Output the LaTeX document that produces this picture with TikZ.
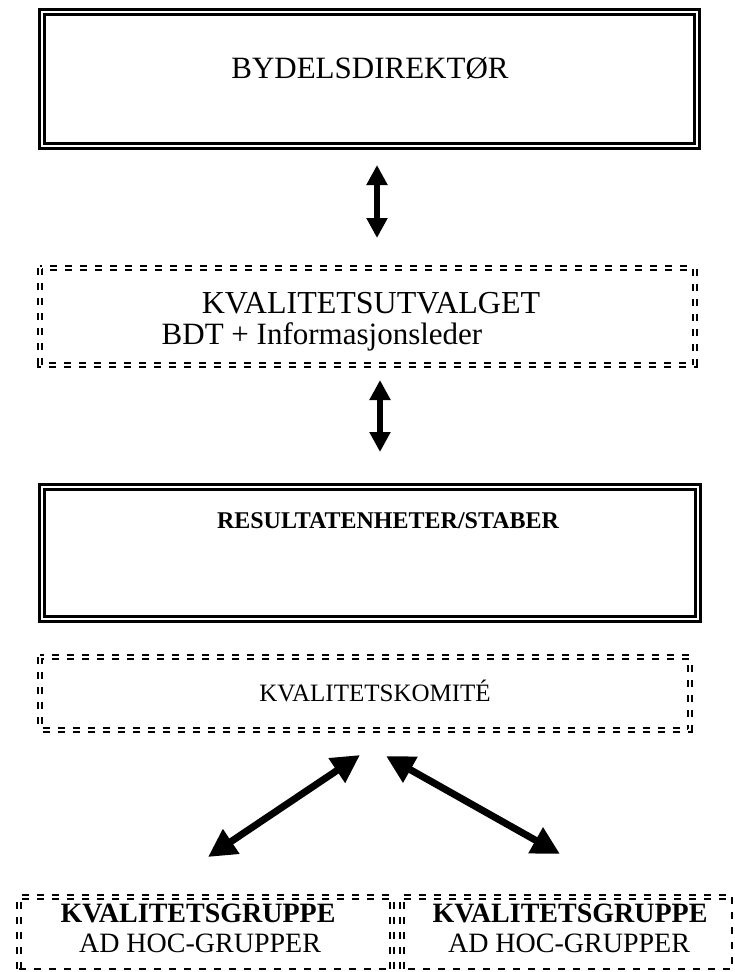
\documentclass[tikz,border=0pt]{standalone}
\usepackage{fontspec}
\setmainfont{Liberation Serif}
\usetikzlibrary{arrows.meta}
\begin{document}
\begin{tikzpicture}[x=1pt,y=-1pt,
  txt/.style={anchor=base,inner sep=0pt,font=\fontsize{30}{30}\selectfont},
  area/.style={inner sep=0pt,draw=none},
  framebox/.style={draw,line width=2.4pt,double,double distance=2.6pt,inner sep=0pt},
  ddash/.style={line width=2.1pt,double,double distance=2pt,dash pattern=on 7pt off 8pt},
  sdash/.style={line width=2.2pt,dash pattern=on 7pt off 8pt},
  varrow/.style={line width=5.5pt,{Triangle[width=20pt,length=20pt]}-{Triangle[width=20pt,length=20pt]}},
  darrow/.style={line width=7pt,{Triangle[width=28pt,length=28pt]}-{Triangle[width=28pt,length=28pt]}}]
\useasboundingbox (0,0) rectangle (735,972);

% box 1
\node[framebox,minimum width=655pt,minimum height=134pt] (b1) at (369.5,79) {};
\node[txt,font=\fontsize{31}{31}\selectfont] (t1) at (370,78) {BYDELSDIREKTØR};

% box 2
\node[area,minimum width=654pt,minimum height=96pt] (b2) at (367.5,316.5) {};
\draw[ddash] (b2.north west) rectangle (b2.south east);
\node[txt,font=\fontsize{32}{32}\selectfont] (t2a) at (371,313) {KVALITETSUTVALGET};
\node[txt,font=\fontsize{31}{31}\selectfont] (t2b) at (322,344) {BDT + Informasjonsleder};

% box 3
\node[framebox,minimum width=656pt,minimum height=132pt] (b3) at (370,553) {};
\node[txt,font=\fontsize{24}{24}\selectfont\bfseries] (t3) at (388,528) {RESULTATENHETER/STABER};

% box 4
\node[area,minimum width=649pt,minimum height=72pt] (b4) at (365,693.5) {};
\draw[ddash] (b4.north west) rectangle (b4.south east);
\node[txt,font=\fontsize{25}{25}\selectfont] (t4) at (375,701) {KVALITETSKOMITÉ};

% box 5
\node[area,minimum width=372pt,minimum height=72pt] (b5) at (205.5,933) {};
\draw[ddash] (b5.south west) -- (b5.north west) -- (b5.north east) -- (b5.south east);
\draw[sdash] (b5.south west) -- (b5.south east);
\node[txt,font=\fontsize{28}{28}\selectfont\bfseries] (t5a) at (198,922) {KVALITETSGRUPPE};
\node[txt,font=\fontsize{28}{28}\selectfont] (t5b) at (200,952) {AD HOC-GRUPPER};

% box 6
\node[area,minimum width=330pt,minimum height=72pt] (b6) at (567,933) {};
\draw[ddash] (b6.south west) -- (b6.north west) -- (b6.north east);
\draw[sdash] (b6.north east) -- (b6.south east) -- (b6.south west);
\node[txt,font=\fontsize{28}{28}\selectfont\bfseries] (t6a) at (570,922) {KVALITETSGRUPPE};
\node[txt,font=\fontsize{28}{28}\selectfont] (t6b) at (569,952) {AD HOC-GRUPPER};

% arrows
\coordinate (a1t) at (377,165);
\coordinate (a1b) at (377,238);
\draw[varrow] (a1t) -- (a1b);
\coordinate (a2t) at (380,380);
\coordinate (a2b) at (380,452);
\draw[varrow] (a2t) -- (a2b);
\coordinate (a3t) at (360,755);
\coordinate (a3b) at (208,857);
\draw[darrow] (a3t) -- (a3b);
\coordinate (a4t) at (386,756);
\coordinate (a4b) at (560,854);
\draw[darrow] (a4t) -- (a4b);
\end{tikzpicture}
\end{document}
